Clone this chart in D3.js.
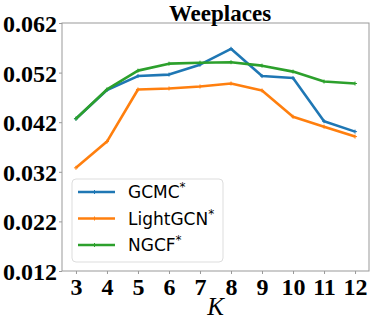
<!DOCTYPE html>
<html>
<head>
<meta charset="utf-8">
<script src="https://cdn.jsdelivr.net/npm/d3@7"></script>
<style>
  body { margin: 0; background: #fff; }
  svg { display: block; }
</style>
</head>
<body>
<div id="chart"></div>
<script>
// data
var ks = [3, 4, 5, 6, 7, 8, 9, 10, 11, 12];
var gcmc = [0.0427, 0.0485, 0.0513, 0.0516, 0.0536, 0.0568, 0.0513, 0.0509, 0.0422, 0.0401];
var lightgcn = [0.0328, 0.0381, 0.0486, 0.0488, 0.0492, 0.0498, 0.0484, 0.0431, 0.0411, 0.0391];
var ngcf = [0.0427, 0.0486, 0.0524, 0.0538, 0.0540, 0.0541, 0.0534, 0.0522, 0.0502, 0.0498];
var yTicks = [0.012, 0.022, 0.032, 0.042, 0.052, 0.062];
var seriesNames = ["GCMC", "LightGCN", "NGCF"];
var seriesColors = ["#1f77b4", "#ff7f0e", "#2ca02c"];

var W = 374, H = 324;
var margin = {top: 23, right: 5, bottom: 53, left: 62};
var width = W - margin.left - margin.right,
    height = H - margin.top - margin.bottom;

var svg = d3.select("#chart").append("svg")
  .attr("width", W)
  .attr("height", H);

var g = svg.append("g")
  .attr("transform", "translate(" + margin.left + "," + margin.top + ")");

var xScale = d3.scaleLinear().domain([2.55, 12.45]).range([0, width]);
var yScale = d3.scaleLinear().domain([0.012, 0.062]).range([height, 0]);

// frame
g.append("rect")
  .attr("width", width)
  .attr("height", height)
  .attr("fill", "none")
  .attr("stroke", "#999")
  .attr("stroke-width", 1);

var serif = "'Liberation Serif', 'Times New Roman', serif";

var xAxis = d3.axisBottom(xScale).tickValues(ks).tickSize(3).tickPadding(3);
var yAxis = d3.axisLeft(yScale).tickValues(yTicks).tickSize(3).tickPadding(3)
  .tickFormat(d3.format(".3f"));

var gx = g.append("g")
  .attr("transform", "translate(0," + height + ")")
  .call(xAxis);
var gy = g.append("g").call(yAxis);

[gx, gy].forEach(function(a){
  a.select(".domain").remove();
  a.selectAll(".tick line").attr("stroke", "#999");
  a.selectAll("text")
    .attr("fill", "#000")
    .style("font-family", serif)
    .style("font-weight", "bold")
    .style("font-size", "24px");
});
gy.selectAll("text").attr("dy", "0.35em").attr("x", -5);
gx.selectAll("text").attr("dy", "0.75em");

// title
svg.append("text")
  .attr("x", 220)
  .attr("y", 21)
  .attr("text-anchor", "middle")
  .style("font-family", serif)
  .style("font-weight", "bold")
  .style("font-size", "23px")
  .text("Weeplaces");

// x label
svg.append("text")
  .attr("x", margin.left + width / 2)
  .attr("y", 315)
  .attr("text-anchor", "middle")
  .style("font-family", serif)
  .style("font-style", "italic")
  .style("font-size", "25px")
  .text("K");

var line = d3.line()
  .x(function(d, i){ return xScale(ks[i]); })
  .y(function(d){ return yScale(d); });

var allSeries = [gcmc, lightgcn, ngcf];

allSeries.forEach(function(s, si){
  var sg = g.append("g");
  sg.append("path")
    .datum(s)
    .attr("d", line)
    .attr("fill", "none")
    .attr("stroke", seriesColors[si])
    .attr("stroke-width", 2.6)
    .attr("stroke-linejoin", "round");
  sg.selectAll(".mk")
    .data(s)
    .enter()
    .append("path")
    .attr("class", "mk")
    .attr("d", function(d, i){
      var x = xScale(ks[i]), y = yScale(d);
      return "M" + (x - 2) + "," + y + "H" + (x + 2) + "M" + x + "," + (y - 2) + "V" + (y + 2);
    })
    .attr("stroke", seriesColors[si])
    .attr("stroke-width", 1);
});

// legend
var legend = svg.append("g").attr("transform", "translate(72,179)");
legend.append("rect")
  .attr("width", 151)
  .attr("height", 83)
  .attr("rx", 4)
  .attr("fill", "#fff")
  .attr("fill-opacity", 0.8)
  .attr("stroke", "#ddd");

seriesNames.forEach(function(name, i){
  var y = 13 + i * 26.5;
  legend.append("line")
    .attr("x1", 6).attr("x2", 43)
    .attr("y1", y).attr("y2", y)
    .attr("stroke", seriesColors[i])
    .attr("stroke-width", 2.6);
  legend.append("path")
    .attr("d", "M22.5," + (y - 2) + "V" + (y + 2) + "M20.5," + y + "H24.5")
    .attr("stroke", seriesColors[i])
    .attr("stroke-width", 1);
  var t = legend.append("text")
    .attr("x", 56)
    .attr("y", y + 6)
    .style("font-family", "'DejaVu Sans', sans-serif")
    .style("font-size", "17px")
    .text(name);
  t.append("tspan")
    .attr("dy", "-7")
    .style("font-size", "12px")
    .text("*");
});
</script>
</body>
</html>
